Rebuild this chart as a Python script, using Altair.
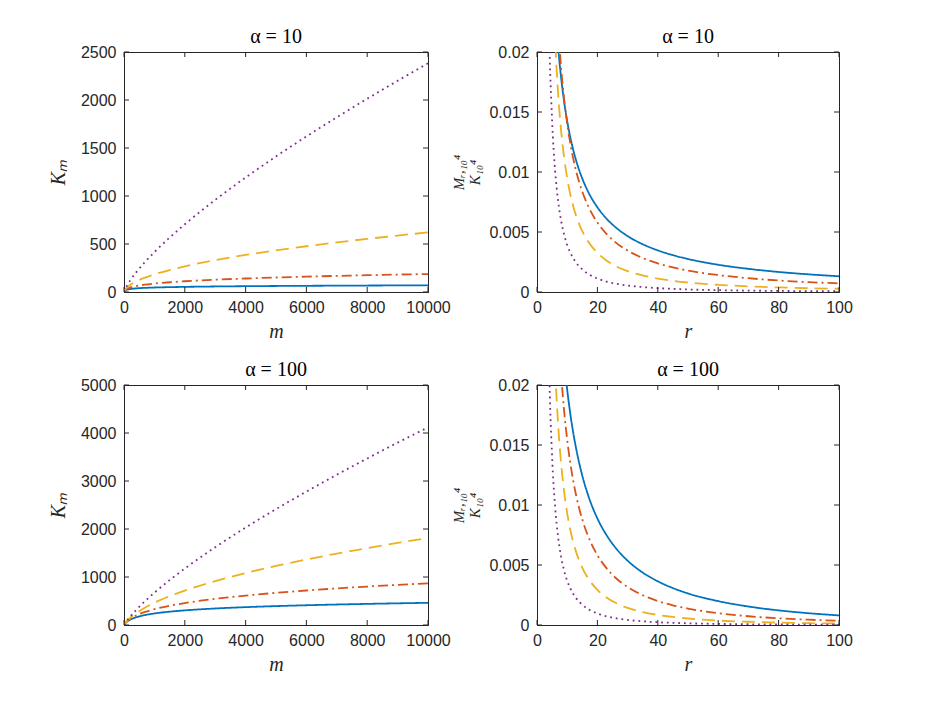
import altair as alt
import pandas as pd

# ---------------- data ----------------
SERIES = ["s0", "s025", "s05", "s075"]
COLORS = ["#0072BD", "#D95319", "#EDB120", "#7E2F8E"]
DASHES = [[1, 0], [10, 4, 2, 4], [13, 7], [1.8, 3.9]]

M_VALUES = [0, 20, 50, 100, 200, 400, 700, 1000, 1500, 2000, 3000, 4000,
            5000, 6000, 7000, 8000, 9000, 10000]

K_A10_S0 = [0, 11.3, 18.3, 24.4, 30.9, 37.6, 43.1, 46.7, 50.7, 53.5, 57.6,
            60.5, 62.7, 64.5, 66.0, 67.4, 68.5, 69.6]
K_A10_S25 = [0, 13.0, 23.1, 33.5, 46.4, 62.2, 77.2, 88.0, 101.6, 112.0, 128.2,
             140.7, 151.1, 160.0, 167.8, 174.8, 181.3, 187.2]
K_A10_S50 = [0, 14.9, 29.5, 47.1, 72.8, 109.7, 150.6, 183.5, 228.9, 267.1,
             331.4, 385.6, 433.4, 476.5, 516.3, 553.2, 588.0, 620.8]
K_A10_S75 = [0, 17.3, 38.2, 67.9, 118.6, 204.7, 315.8, 415.4, 566.4, 705.1,
             959.3, 1192.8, 1411.9, 1620.4, 1820.4, 2013.2, 2200.1, 2381.9]

K_A100_S0 = [0, 18.3, 40.7, 69.6, 110.2, 161.3, 208.4, 240.2, 277.7, 304.9,
             343.9, 371.8, 393.7, 411.6, 426.8, 439.9, 451.6, 462.0]
K_A100_S25 = [0, 18.7, 42.8, 75.9, 126.8, 198.6, 273.3, 329.1, 400.7, 457.1,
              544.7, 613.1, 669.9, 718.9, 762.2, 801.1, 836.6, 869.2]
K_A100_S50 = [0, 19.1, 45.1, 83.0, 146.7, 247.7, 366.3, 464.1, 600.9, 717.6,
              914.9, 1082.2, 1230.0, 1364.0, 1487.3, 1602.2, 1710.2, 1812.5]
K_A100_S75 = [0, 19.6, 47.4, 91.0, 170.8, 312.8, 501.5, 672.7, 934.4, 1175.8,
              1619.9, 2028.9, 2413.7, 2779.7, 3130.8, 3469.9, 3798.7, 4118.5]

R_VALUES = [1, 2, 3, 4, 5, 6, 7, 8, 9, 10, 11, 12, 13, 14, 15, 17, 20, 23, 26,
            30, 35, 40, 45, 50, 60, 70, 80, 90, 100]

R_A10_S0 = [0.14355, 0.07171, 0.04776, 0.03579, 0.02861, 0.02382, 0.02040,
            0.01783, 0.01584, 0.01424, 0.01293, 0.01184, 0.01092, 0.01013,
            0.00945, 0.00832, 0.00706, 0.00612, 0.00540, 0.00466, 0.00398,
            0.00347, 0.00307, 0.00275, 0.00227, 0.00193, 0.00167, 0.00147,
            0.00131]
R_A10_S25 = [0.30315, 0.11358, 0.06619, 0.04546, 0.03407, 0.02694, 0.02211,
             0.01864, 0.01604, 0.01402, 0.01241, 0.01111, 0.01003, 0.00913,
             0.00836, 0.00713, 0.00579, 0.00485, 0.00414, 0.00345, 0.00283,
             0.00238, 0.00205, 0.00178, 0.00141, 0.00115, 0.00096, 0.00082,
             0.00072]
R_A10_S50 = [0.51561, 0.12878, 0.06433, 0.04017, 0.02809, 0.02105, 0.01652,
             0.01341, 0.01117, 0.00948, 0.00818, 0.00715, 0.00632, 0.00564,
             0.00507, 0.00418, 0.00326, 0.00263, 0.00217, 0.00174, 0.00138,
             0.00112, 0.00093, 0.00079, 0.00060, 0.00047, 0.00038, 0.00031,
             0.00027]
R_A10_S75 = [0.75347, 0.09409, 0.03917, 0.02201, 0.01429, 0.01011, 0.00758,
             0.00592, 0.00476, 0.00392, 0.00330, 0.00281, 0.00243, 0.00213,
             0.00188, 0.00150, 0.00112, 0.00087, 0.00070, 0.00054, 0.00041,
             0.00032, 0.00026, 0.00021, 0.000153, 0.000116, 0.0000907,
             0.0000730, 0.0000600]

R_A100_S0 = [0.21433, 0.10611, 0.07005, 0.05202, 0.04121, 0.03400, 0.02886,
             0.02500, 0.02201, 0.01961, 0.01765, 0.01602, 0.01465, 0.01347,
             0.01244, 0.01076, 0.00888, 0.00750, 0.00644, 0.00536, 0.00437,
             0.00364, 0.00308, 0.00263, 0.00199, 0.00154, 0.00122, 0.00098,
             0.00080]
R_A100_S25 = [0.36147, 0.13422, 0.07753, 0.05278, 0.03920, 0.03073, 0.02499,
              0.02088, 0.01780, 0.01542, 0.01354, 0.01201, 0.01075, 0.00969,
              0.00879, 0.00736, 0.00582, 0.00474, 0.00394, 0.00317, 0.00248,
              0.00200, 0.00164, 0.00137, 0.00098, 0.00073, 0.00056, 0.00044,
              0.00035]
R_A100_S50 = [0.54971, 0.13608, 0.06737, 0.04169, 0.02890, 0.02146, 0.01670,
              0.01343, 0.01108, 0.00933, 0.00797, 0.00691, 0.00605, 0.00535,
              0.00477, 0.00386, 0.00293, 0.00230, 0.00185, 0.00143, 0.00108,
              0.00084, 0.00067, 0.00054, 0.00037, 0.00027, 0.00020, 0.00015,
              0.00012]
R_A100_S75 = [0.76669, 0.09490, 0.03915, 0.02181, 0.01404, 0.00984, 0.00731,
              0.00566, 0.00451, 0.00368, 0.00307, 0.00259, 0.00222, 0.00193,
              0.00168, 0.00132, 0.00096, 0.00072, 0.00057, 0.00042, 0.00031,
              0.00023, 0.00018, 0.00014, 0.0000914, 0.0000630, 0.0000450,
              0.0000331, 0.0000251]

M_TICKS = [0, 2000, 4000, 6000, 8000, 10000]
K_TICKS_A10 = [0, 500, 1000, 1500, 2000, 2500]
K_TICKS_A100 = [0, 1000, 2000, 3000, 4000, 5000]
R_TICKS = [0, 20, 40, 60, 80, 100]
RATIO_TICKS = [0, 0.005, 0.01, 0.015, 0.02]

TITLE_A10 = "α = 10"
TITLE_A100 = "α = 100"
X_TITLE_LEFT = "m"
X_TITLE_RIGHT = "r"
Y_TITLE_LEFT = "Kₘ"
Y_TITLE_RIGHT = ["Mᵣ,₁₀⁴", "K₁₀⁴"]

AX = "#262626"


def long_df(xs, series_lists):
    rows = []
    for name, ys in zip(SERIES, series_lists):
        for x, y in zip(xs, ys):
            rows.append({"x": x, "y": y, "s": name})
    return pd.DataFrame(rows)


def panel(df, xdom, ydom, xticks, yticks, xtitle, ytitle, title, w, h,
          ytitle_size, ytitle_pad, ytitle_lh):
    xs = alt.Scale(domain=xdom, nice=False, zero=False)
    ys = alt.Scale(domain=ydom, nice=False, zero=False)
    xax = alt.Axis(values=xticks, format="~r", title=xtitle)
    yax = alt.Axis(values=yticks, format="~r", title=ytitle,
                   titleFontSize=ytitle_size, titlePadding=ytitle_pad,
                   titleLineHeight=ytitle_lh)
    lines = alt.Chart(df).mark_line(
        clip=True, strokeWidth=1.8, interpolate="monotone"
    ).encode(
        x=alt.X("x:Q", scale=xs, axis=xax),
        y=alt.Y("y:Q", scale=ys, axis=yax),
        color=alt.Color("s:N", scale=alt.Scale(domain=SERIES, range=COLORS),
                        legend=None),
        strokeDash=alt.StrokeDash("s:N",
                                  scale=alt.Scale(domain=SERIES, range=DASHES),
                                  legend=None),
    )
    xt = pd.DataFrame({"t": xticks})
    yt = pd.DataFrame({"t": yticks})
    tick_b = alt.Chart(xt).mark_rule(color=AX, strokeWidth=1).encode(
        x=alt.X("t:Q", scale=xs, axis=xax), y=alt.value(h), y2=alt.value(h - 5))
    tick_t = alt.Chart(xt).mark_rule(color=AX, strokeWidth=1).encode(
        x=alt.X("t:Q", scale=xs, axis=xax), y=alt.value(0), y2=alt.value(5))
    tick_l = alt.Chart(yt).mark_rule(color=AX, strokeWidth=1).encode(
        y=alt.Y("t:Q", scale=ys, axis=yax), x=alt.value(0), x2=alt.value(5))
    tick_r = alt.Chart(yt).mark_rule(color=AX, strokeWidth=1).encode(
        y=alt.Y("t:Q", scale=ys, axis=yax), x=alt.value(w), x2=alt.value(w - 5))
    return alt.layer(lines, tick_b, tick_t, tick_l, tick_r).properties(
        width=w, height=h, title=alt.TitleParams(title))


p1 = panel(long_df(M_VALUES, [K_A10_S0, K_A10_S25, K_A10_S50, K_A10_S75]),
           [0, 10000], [0, 2500], M_TICKS, K_TICKS_A10, X_TITLE_LEFT,
           Y_TITLE_LEFT, TITLE_A10, 304, 240, 20, 12, 20)
p2 = panel(long_df(R_VALUES, [R_A10_S0, R_A10_S25, R_A10_S50, R_A10_S75]),
           [0, 100], [0, 0.02], R_TICKS, RATIO_TICKS, X_TITLE_RIGHT,
           Y_TITLE_RIGHT, TITLE_A10, 302, 240, 15, 6, 16)
p3 = panel(long_df(M_VALUES, [K_A100_S0, K_A100_S25, K_A100_S50, K_A100_S75]),
           [0, 10000], [0, 5000], M_TICKS, K_TICKS_A100, X_TITLE_LEFT,
           Y_TITLE_LEFT, TITLE_A100, 304, 240, 20, 12, 20)
p4 = panel(long_df(R_VALUES, [R_A100_S0, R_A100_S25, R_A100_S50, R_A100_S75]),
           [0, 100], [0, 0.02], R_TICKS, RATIO_TICKS, X_TITLE_RIGHT,
           Y_TITLE_RIGHT, TITLE_A100, 302, 240, 15, 6, 16)

chart = alt.concat(
    p1, p2, p3, p4, columns=2, spacing={"row": 93, "column": 109},
    bounds="flush"
).properties(
    padding={"left": 39, "top": 18, "right": 5, "bottom": 5},
    background="white",
).configure_view(
    stroke=AX, strokeWidth=1
).configure_axis(
    domainColor=AX, domainWidth=1, ticks=False, grid=False,
    labelFont="Liberation Sans", labelFontSize=16, labelColor=AX,
    labelFlush=False, labelOverlap=False,
    titleFont="Liberation Serif", titleFontStyle="italic",
    titleFontWeight="normal", titleFontSize=20, titleColor=AX,
).configure_axisX(
    labelPadding=7, titlePadding=6
).configure_axisY(
    labelPadding=8
).configure_title(
    font="Liberation Serif", fontSize=20, fontWeight="normal", color="#000",
    offset=-3
)

chart.save("out.html", embed_options={"renderer": "svg", "actions": False})
